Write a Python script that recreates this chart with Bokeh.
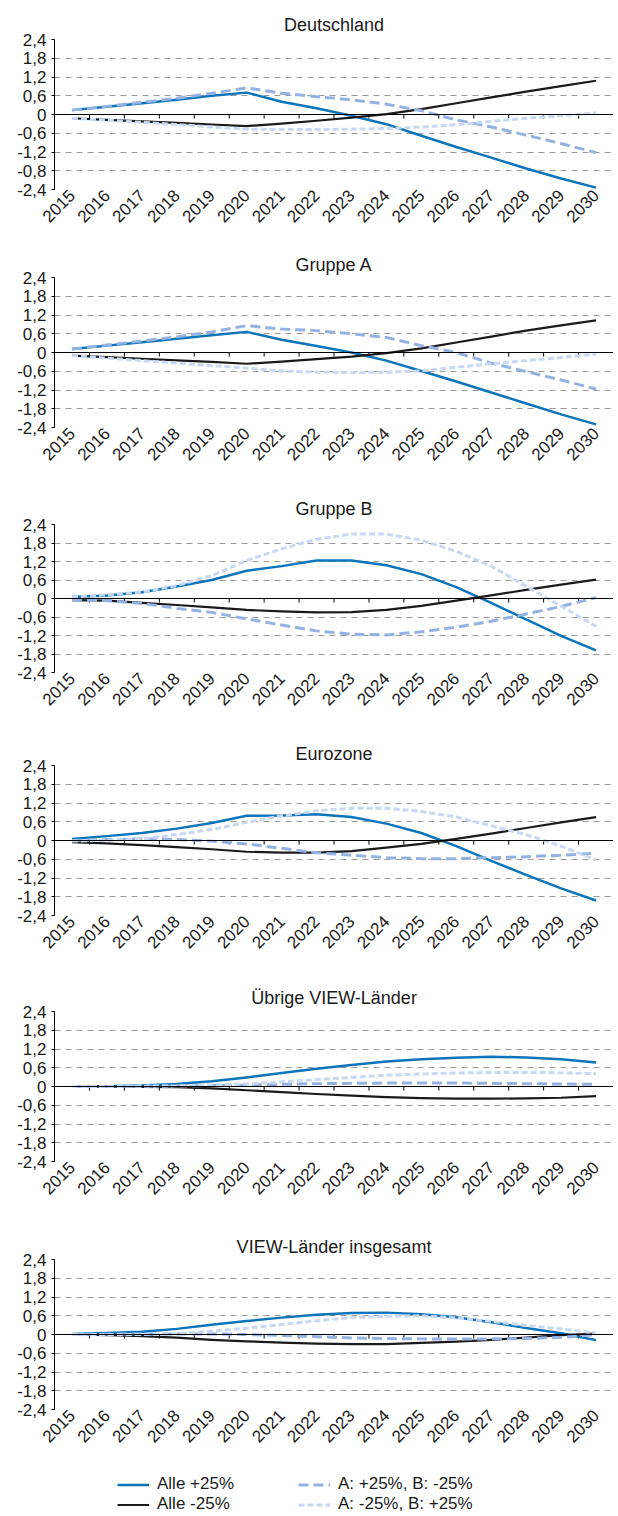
import math
from bokeh.plotting import figure
from bokeh.layouts import column
from bokeh.models import (Range1d, FactorRange, FixedTicker, Span, Legend,
                          LegendItem, ColumnDataSource)
from bokeh.transform import dodge
from bokeh.embed import file_html
from bokeh.resources import INLINE

# ---------------- data ----------------
years = [str(y) for y in range(2015, 2031)]
y_ticks = [-2.4, -1.8, -1.2, -0.6, 0, 0.6, 1.2, 1.8, 2.4]
y_tick_labels = ["-2,4", "-1,8", "-1,2", "-0,6", "0", "0,6", "1,2", "1,8", "2,4"]
# as printed in the original Deutschland panel
y_tick_labels_de = ["-2,4", "-0,8", "-1,2", "-0,6", "0", "0,6", "1,2", "1,8", "2,4"]

series_names = ["Alle +25%", "Alle -25%", "A: +25%, B: -25%", "A: -25%, B: +25%"]
panel_titles = ["Deutschland", "Gruppe A", "Gruppe B", "Eurozone",
                "Übrige VIEW-Länder", "VIEW-Länder insgesamt"]

de_plus = [0.14, 0.25, 0.36, 0.47, 0.60, 0.70, 0.41, 0.20, -0.04, -0.31, -0.68, -1.04, -1.38, -1.73, -2.05, -2.34]
de_minus = [-0.12, -0.17, -0.22, -0.27, -0.32, -0.37, -0.29, -0.20, -0.10, 0.01, 0.17, 0.36, 0.55, 0.73, 0.91, 1.08]
de_apbm = [0.14, 0.26, 0.39, 0.52, 0.68, 0.85, 0.68, 0.57, 0.47, 0.33, 0.12, -0.17, -0.40, -0.66, -0.93, -1.22]
de_ambp = [-0.12, -0.18, -0.25, -0.32, -0.40, -0.47, -0.48, -0.48, -0.47, -0.45, -0.40, -0.33, -0.22, -0.12, -0.04, 0.05]

ga_plus = [0.11, 0.22, 0.33, 0.44, 0.55, 0.66, 0.41, 0.21, 0.00, -0.26, -0.59, -0.93, -1.28, -1.63, -1.98, -2.30]
ga_minus = [-0.10, -0.15, -0.20, -0.25, -0.30, -0.36, -0.29, -0.21, -0.13, -0.02, 0.13, 0.32, 0.51, 0.70, 0.87, 1.03]
ga_apbm = [0.11, 0.24, 0.37, 0.50, 0.66, 0.86, 0.75, 0.70, 0.60, 0.48, 0.22, 0.00, -0.34, -0.61, -0.88, -1.17]
ga_ambp = [-0.10, -0.18, -0.26, -0.34, -0.42, -0.50, -0.59, -0.63, -0.64, -0.63, -0.59, -0.47, -0.36, -0.26, -0.16, -0.05]

gb_plus = [0.05, 0.10, 0.20, 0.39, 0.60, 0.90, 1.05, 1.23, 1.23, 1.08, 0.79, 0.37, -0.14, -0.68, -1.21, -1.68]
gb_minus = [-0.05, -0.07, -0.14, -0.21, -0.29, -0.37, -0.42, -0.45, -0.44, -0.37, -0.24, -0.07, 0.10, 0.28, 0.45, 0.61]
gb_apbm = [-0.05, -0.07, -0.16, -0.32, -0.45, -0.66, -0.86, -1.05, -1.16, -1.18, -1.08, -0.93, -0.74, -0.50, -0.26, 0.03]
gb_ambp = [0.05, 0.12, 0.21, 0.42, 0.74, 1.23, 1.61, 1.92, 2.09, 2.09, 1.89, 1.53, 1.05, 0.40, -0.25, -0.90]

ez_plus = [0.05, 0.14, 0.24, 0.38, 0.56, 0.79, 0.80, 0.84, 0.75, 0.54, 0.24, -0.18, -0.65, -1.10, -1.53, -1.92]
ez_minus = [-0.05, -0.09, -0.15, -0.21, -0.28, -0.36, -0.39, -0.39, -0.34, -0.23, -0.11, 0.05, 0.22, 0.40, 0.58, 0.75]
ez_apbm = [0.00, 0.03, 0.05, 0.03, -0.02, -0.11, -0.25, -0.39, -0.47, -0.55, -0.58, -0.58, -0.55, -0.52, -0.47, -0.41]
ez_ambp = [-0.02, 0.01, 0.05, 0.19, 0.35, 0.58, 0.79, 0.95, 1.03, 1.03, 0.93, 0.75, 0.47, 0.19, -0.18, -0.62]

ub_plus = [0.00, 0.01, 0.03, 0.08, 0.17, 0.29, 0.43, 0.57, 0.69, 0.80, 0.87, 0.92, 0.95, 0.93, 0.87, 0.77]
ub_minus = [0.00, 0.00, -0.01, -0.02, -0.06, -0.12, -0.18, -0.24, -0.29, -0.34, -0.37, -0.39, -0.39, -0.38, -0.36, -0.31]
ub_apbm = [0.00, 0.00, 0.01, 0.02, 0.03, 0.04, 0.07, 0.09, 0.10, 0.11, 0.11, 0.11, 0.10, 0.09, 0.08, 0.07]
ub_ambp = [0.00, 0.00, 0.01, 0.02, 0.05, 0.08, 0.15, 0.22, 0.29, 0.36, 0.40, 0.43, 0.45, 0.45, 0.44, 0.41]

vi_plus = [0.02, 0.05, 0.09, 0.18, 0.31, 0.43, 0.54, 0.63, 0.69, 0.70, 0.65, 0.55, 0.39, 0.21, 0.04, -0.18]
vi_minus = [0.00, -0.02, -0.05, -0.10, -0.17, -0.22, -0.26, -0.29, -0.31, -0.31, -0.27, -0.23, -0.17, -0.10, -0.02, 0.03]
vi_apbm = [0.00, 0.01, 0.02, 0.02, 0.02, 0.00, -0.03, -0.07, -0.11, -0.13, -0.14, -0.14, -0.14, -0.13, -0.09, -0.01]
vi_ambp = [0.00, -0.01, 0.00, 0.02, 0.11, 0.20, 0.32, 0.44, 0.54, 0.58, 0.60, 0.53, 0.42, 0.29, 0.18, 0.05]

panels = [
    (de_plus, de_minus, de_apbm, de_ambp),
    (ga_plus, ga_minus, ga_apbm, ga_ambp),
    (gb_plus, gb_minus, gb_apbm, gb_ambp),
    (ez_plus, ez_minus, ez_apbm, ez_ambp),
    (ub_plus, ub_minus, ub_apbm, ub_ambp),
    (vi_plus, vi_minus, vi_apbm, vi_ambp),
]

# ---------------- styles ----------------
FONT = "Liberation Sans"
TXT = "#1a1a1a"
styles = [
    dict(line_color="#0B74BA", line_width=2.5, line_dash="solid"),
    dict(line_color="#1A1A1A", line_width=2.2, line_dash="solid"),
    dict(line_color="#93B2E2", line_width=3.0, line_dash="10 5"),
    dict(line_color="#C8D8F2", line_width=3.0, line_dash="6 3"),
]
heights = [246, 245, 243, 246, 248, 246]
tops = [39, 31, 31, 31, 31, 31]
title_standoffs = [10, 6, 11, 4, 7, 6]
FRAME_H = 150
WIDTH = 613
LEFT = 54
TICK_LEN = 0.13  # zero-line tick length in data units

figs = []
for i, (title, data) in enumerate(zip(panel_titles, panels)):
    h = heights[i]
    top = tops[i]
    p = figure(x_range=FactorRange(factors=years), y_range=Range1d(-2.4, 2.4),
               width=WIDTH, height=h, min_border_left=LEFT, min_border_right=0,
               min_border_top=top, min_border_bottom=h - top - FRAME_H,
               output_backend="svg", toolbar_location=None, title=title)
    p.outline_line_color = None
    p.background_fill_color = "white"
    p.border_fill_color = "white"

    p.title.align = "center"
    p.title.text_font = FONT
    p.title.text_font_size = "18px"
    p.title.text_font_style = "normal"
    p.title.text_color = TXT
    if "standoff" in p.title.properties():
        p.title.standoff = title_standoffs[i]

    # y axis
    labels = y_tick_labels_de if i == 0 else y_tick_labels
    p.yaxis.ticker = FixedTicker(ticks=y_ticks)
    p.yaxis.major_label_overrides = {t: l for t, l in zip(y_ticks, labels)}
    p.yaxis.major_label_text_font = FONT
    p.yaxis.major_label_text_font_size = "17px"
    p.yaxis.major_label_text_color = TXT
    p.yaxis.axis_line_color = "black"
    p.yaxis.major_tick_line_color = "black"
    p.yaxis.major_tick_out = 3
    p.yaxis.major_tick_in = 0
    p.yaxis.minor_tick_line_color = None
    p.yaxis.major_label_standoff = 5

    # x axis
    p.xaxis.major_label_orientation = math.pi / 4
    p.xaxis.major_label_text_font = FONT
    p.xaxis.major_label_text_font_size = "17px"
    p.xaxis.major_label_text_color = TXT
    p.xaxis.axis_line_color = None
    p.xaxis.major_tick_line_color = None
    p.xaxis.major_tick_out = 0
    p.xaxis.major_label_standoff = 3

    p.xgrid.visible = False
    p.ygrid.ticker = FixedTicker(ticks=y_ticks)
    p.ygrid.grid_line_color = "#9a9a9a"
    p.ygrid.grid_line_dash = "6 5"
    p.ygrid.grid_line_width = 1

    # zero line with category-boundary ticks
    p.add_layout(Span(location=0, dimension="width", line_color="black", line_width=1))
    tsrc = ColumnDataSource(dict(year=years, y0=[0] * len(years), y1=[-TICK_LEN] * len(years)))
    p.segment(x0=dodge("year", 0.5, range=p.x_range), y0="y0",
              x1=dodge("year", 0.5, range=p.x_range), y1="y1",
              source=tsrc, line_color="black", line_width=1)

    for vals, st in zip(data, styles):
        src = ColumnDataSource(dict(year=years, v=vals))
        p.line(x="year", y="v", source=src, line_join="round", line_cap="butt", **st)
    figs.append(p)

# ---------------- legend strip ----------------
# legend proxies: one-point lines (a single point draws no visible line)
lg = figure(width=WIDTH, height=40, x_range=FactorRange(factors=years),
            y_range=Range1d(-2.4, 2.4),
            x_axis_type=None, y_axis_type=None, min_border=0,
            min_border_left=LEFT, min_border_right=0,
            output_backend="svg", toolbar_location=None)
lg.outline_line_color = None
lg.xgrid.visible = False
lg.ygrid.visible = False
leg_rends = []
for vals, st in zip(panels[-1], styles):
    src = ColumnDataSource(dict(year=years[:1], v=vals[:1]))
    leg_rends.append(lg.line(x="year", y="v", source=src, **st))

leg_cfg = dict(border_line_color=None, background_fill_alpha=0, padding=0,
               margin=0, spacing=0, glyph_width=32, glyph_height=19,
               label_height=19, label_standoff=8,
               label_text_font=FONT, label_text_font_size="17px",
               label_text_color=TXT)
leg1 = Legend(items=[LegendItem(label=series_names[0], renderers=[leg_rends[0]]),
                     LegendItem(label=series_names[1], renderers=[leg_rends[1]])],
              location=(117 - LEFT, 0), **leg_cfg)
leg2 = Legend(items=[LegendItem(label=series_names[2], renderers=[leg_rends[2]]),
                     LegendItem(label=series_names[3], renderers=[leg_rends[3]])],
              location=(298 - LEFT, 0), **leg_cfg)
lg.add_layout(leg1, "center")
lg.add_layout(leg2, "center")
figs.append(lg)

layout = column(*figs, spacing=0)
open("out.html", "w").write(file_html(layout, INLINE))
